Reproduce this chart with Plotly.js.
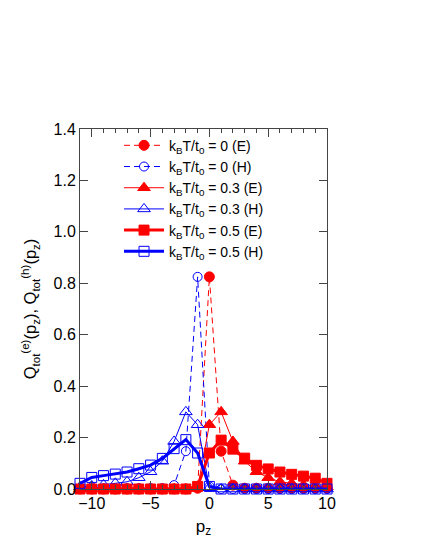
<!DOCTYPE html>
<html>
<head>
<meta charset="utf-8">
<script src="https://cdn.plot.ly/plotly-3.0.1.min.js"></script>
<style>
  html, body { margin: 0; padding: 0; background: #fff; }
  #chart { width: 425px; height: 550px; }
</style>
</head>
<body>
<div id="chart"></div>
<script>
// momentum grid
const pz = [-11, -10, -9, -8, -7, -6, -5, -4, -3, -2, -1, 0, 1, 2, 3, 4, 5, 6, 7, 8, 9, 10];

// kBT/t0 = 0
const elecT0 = [0, 0, 0, 0, 0, 0, 0, 0, 0, 0, 0.003, 0.825, 0.147, 0.015, 0.003, 0.003, 0.003, 0.003, 0.003, 0.003, 0.003, 0.003];
const holeT0 = [0.003, 0.003, 0.003, 0.003, 0.003, 0.003, 0.003, 0.003, 0.015, 0.147, 0.825, 0.01, 0, 0, 0, 0, 0, 0, 0, 0, 0, 0];

// kBT/t0 = 0.3
const elecT03 = [0, 0, 0, 0, 0, 0, 0, 0, 0, 0, 0.005, 0.25, 0.30, 0.185, 0.108, 0.067, 0.044, 0.028, 0.022, 0.016, 0.012, 0.008];
const holeT03 = [0.008, 0.012, 0.016, 0.022, 0.028, 0.044, 0.067, 0.108, 0.185, 0.30, 0.25, 0.005, 0, 0, 0, 0, 0, 0, 0, 0, 0, 0];

// kBT/t0 = 0.5
const elecT05 = [0, 0, 0, 0, 0, 0, 0, 0, 0, 0, 0.01, 0.14, 0.19, 0.155, 0.12, 0.092, 0.078, 0.066, 0.057, 0.05, 0.042, 0.022];
const holeT05 = [0.022, 0.045, 0.052, 0.058, 0.066, 0.079, 0.093, 0.119, 0.157, 0.192, 0.14, 0.01, 0, 0, 0, 0, 0, 0, 0, 0, 0, 0];

const seriesNames = [
    'k<sub>B</sub>T/t<sub>0</sub> = 0 (E)',
    'k<sub>B</sub>T/t<sub>0</sub> = 0 (H)',
    'k<sub>B</sub>T/t<sub>0</sub> = 0.3 (E)',
    'k<sub>B</sub>T/t<sub>0</sub> = 0.3 (H)',
    'k<sub>B</sub>T/t<sub>0</sub> = 0.5 (E)',
    'k<sub>B</sub>T/t<sub>0</sub> = 0.5 (H)'
];

const RED = '#ff0000';
const BLUE = '#0000ff';

function makeTrace(y, name, color, dash, width, symbol, size) {
    return {
        x: pz,
        y: y,
        name: name,
        type: 'scatter',
        mode: 'lines+markers',
        cliponaxis: false,
        line: { color: color, width: width, dash: dash },
        marker: {
            symbol: symbol,
            size: size,
            color: color,
            line: { color: color, width: 1 }
        }
    };
}

const traces = [
    makeTrace(elecT0, seriesNames[0], RED, '6px,4px', 1, 'circle', 10),
    makeTrace(holeT0, seriesNames[1], BLUE, '6px,4px', 1, 'circle-open', 9),
    makeTrace(elecT03, seriesNames[2], RED, 'solid', 1, 'triangle-up', 11),
    makeTrace(holeT03, seriesNames[3], BLUE, 'solid', 1, 'triangle-up-open', 11),
    makeTrace(elecT05, seriesNames[4], RED, 'solid', 3, 'square', 10),
    makeTrace(holeT05, seriesNames[5], BLUE, 'solid', 3, 'square-open', 10)
];

const axisCommon = {
    showline: true,
    linecolor: '#444',
    linewidth: 1,
    mirror: 'ticks',
    ticks: 'inside',
    ticklen: 8,
    tickcolor: '#444',
    showgrid: false,
    zeroline: false,
    tickfont: { size: 16, color: '#000' }
};

const layout = {
    width: 425,
    height: 550,
    paper_bgcolor: '#fff',
    plot_bgcolor: '#fff',
    font: { family: 'Liberation Sans, Arial, sans-serif', color: '#000' },
    margin: { l: 80, r: 98, t: 129, b: 61 },
    showlegend: true,
    legend: {
        x: 0.158, y: 0.998, xanchor: 'left', yanchor: 'top',
        bgcolor: 'rgba(0,0,0,0)',
        font: { size: 14 },
        itemwidth: 40,
        tracegroupgap: 0
    },
    xaxis: {
        ...axisCommon,
        range: [-11, 10],
        tickvals: [-10, -5, 0, 5, 10],
        minor: { dtick: 1, ticklen: 4, tickcolor: '#444', ticks: 'inside' },
        title: { text: 'p<sub>z</sub>', font: { size: 17 }, standoff: 8 }
    },
    yaxis: {
        ...axisCommon,
        range: [0, 1.4],
        dtick: 0.2,
        tickformat: '.1f',
        title: {
            text: 'Q<sub>tot</sub><sup>(e)</sup>(p<sub>z</sub>), Q<sub>tot</sub><sup>(h)</sup>(p<sub>z</sub>)',
            font: { size: 16.5 },
            standoff: 12
        }
    }
};

Plotly.newPlot('chart', traces, layout, { displayModeBar: false, staticPlot: true });
</script>
</body>
</html>
